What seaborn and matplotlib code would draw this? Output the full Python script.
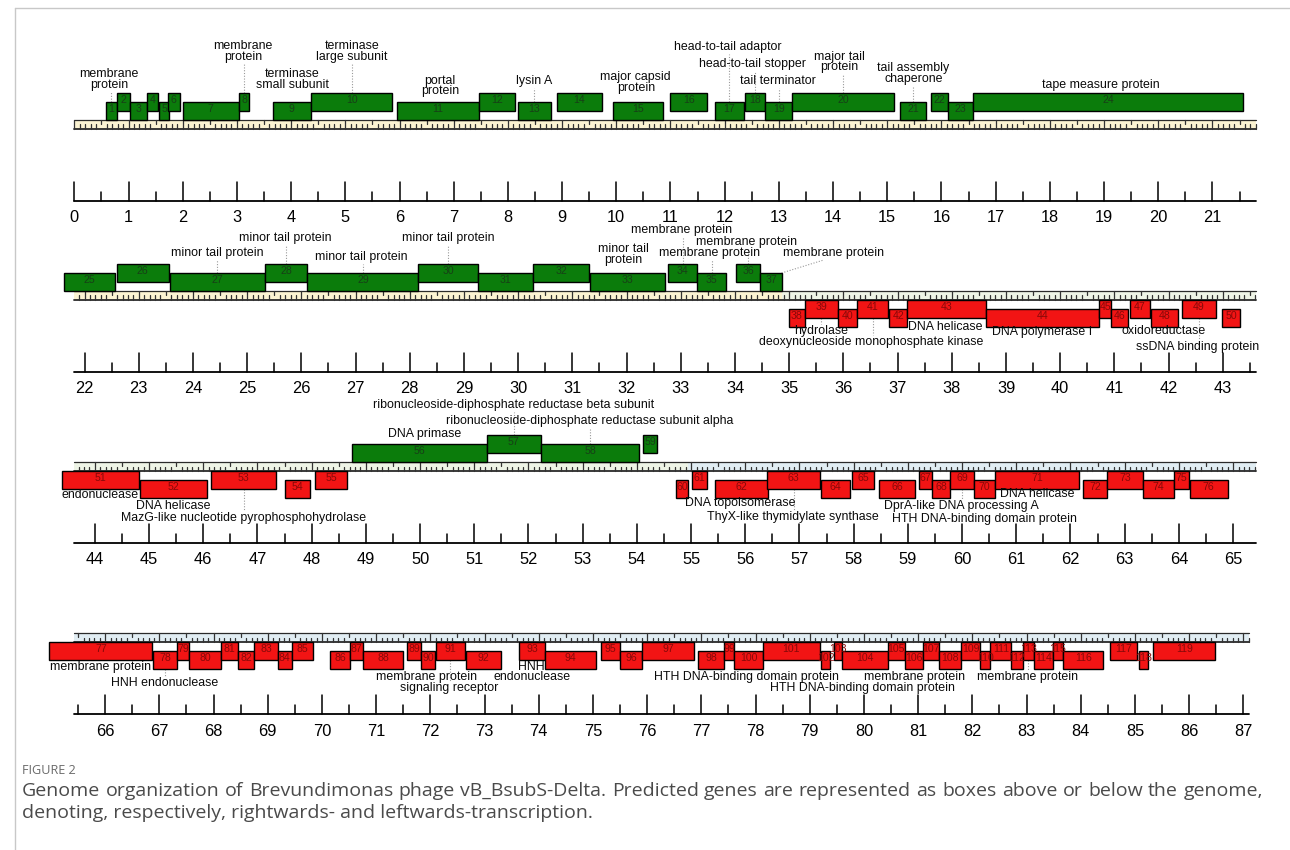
import numpy as np
import matplotlib
matplotlib.use("Agg")
import matplotlib.pyplot as plt
import seaborn as sns
from matplotlib.patches import Rectangle
from matplotlib.lines import Line2D

sns.set_theme(style="white")
plt.rcParams["font.family"] = ["Liberation Sans", "DejaVu Sans"]

# ---------------------------------------------------------------- data (kb)
gene_start = [
    0.59, 0.79, 1.03, 1.34, 1.57, 1.72, 2.00, 3.03, 3.67, 4.36,
    5.95, 7.47, 8.19, 8.90, 9.93, 10.99, 11.82, 12.37, 12.75, 13.24,
    15.24, 15.81, 16.12, 16.58, 21.62, 22.59, 23.57, 25.32, 26.11, 28.16,
    29.26, 30.28, 31.33, 32.77, 33.30, 34.01, 34.47, 34.99, 35.29, 35.90,
    36.26, 36.84, 37.18, 38.64, 40.72, 40.94, 41.28, 41.67, 42.24, 42.98,
    43.39, 44.83, 46.15, 47.51, 48.06, 48.74, 51.23, 52.23, 54.12, 54.72,
    55.02, 55.45, 56.40, 57.39, 57.96, 58.47, 59.20, 59.44, 59.78, 60.22,
    60.61, 62.23, 62.68, 63.33, 63.91, 64.20, 64.97, 66.89, 67.32, 67.55,
    68.13, 68.45, 68.75, 69.19, 69.44, 70.15, 70.52, 70.75, 71.57, 71.83,
    72.10, 72.66, 73.64, 74.12, 75.14, 75.49, 75.91, 76.94, 77.42, 77.61,
    78.13, 79.20, 79.45, 79.59, 80.44, 80.75, 81.09, 81.39, 81.79, 82.14,
    82.33, 82.72, 82.93, 83.14, 83.48, 83.68, 84.54, 85.08, 85.34,
]
gene_end = [
    0.78, 1.03, 1.34, 1.54, 1.75, 1.95, 3.03, 3.23, 4.36, 5.87,
    7.47, 8.13, 8.79, 9.73, 10.86, 11.68, 12.35, 12.75, 13.24, 15.12,
    15.72, 16.12, 16.58, 21.57, 22.56, 23.56, 25.32, 26.11, 28.16, 29.25,
    30.28, 31.30, 32.70, 33.30, 33.84, 34.47, 34.87, 35.29, 35.90, 36.26,
    36.83, 37.18, 38.64, 40.72, 40.94, 41.26, 41.66, 42.18, 42.88, 43.32,
    44.82, 46.07, 47.35, 47.97, 48.66, 51.23, 52.23, 54.04, 54.38, 54.95,
    55.30, 56.41, 57.38, 57.93, 58.38, 59.13, 59.44, 59.78, 60.22, 60.61,
    62.16, 62.68, 63.33, 63.91, 64.19, 64.90, 66.87, 67.32, 67.55, 68.13,
    68.45, 68.75, 69.18, 69.44, 69.83, 70.52, 70.75, 71.50, 71.83, 72.09,
    72.64, 73.30, 74.12, 75.06, 75.49, 75.91, 76.87, 77.42, 77.61, 78.13,
    79.18, 79.38, 79.59, 80.44, 80.75, 81.09, 81.39, 81.79, 82.14, 82.33,
    82.72, 82.93, 83.14, 83.48, 83.68, 84.41, 85.03, 85.24, 86.48,
]
# +1 rightwards transcription, -1 leftwards transcription
gene_strand = [1] * 37 + [-1] * 18 + [1] * 4 + [-1] * 60
genome_length = 87.1

annot_gene = [1, 8, 9, 10, 11, 13, 15, 17, 18, 19, 20, 21, 24,
              27, 28, 29, 30, 33, 34, 35, 36, 37,
              39, 41, 43, 44, 48, 49,
              56, 57, 58, 51, 52, 53, 62, 63, 69, 70, 71,
              77, 78, 90, 91, 93, 100, 104, 106, 113]
annot_text = [
    "membrane\nprotein", "membrane\nprotein", "terminase\nsmall subunit",
    "terminase\nlarge subunit", "portal\nprotein", "lysin A",
    "major capsid\nprotein", "head-to-tail adaptor", "head-to-tail stopper",
    "tail terminator", "major tail\nprotein", "tail assembly\nchaperone",
    "tape measure protein",
    "minor tail protein", "minor tail protein", "minor tail protein",
    "minor tail protein", "minor tail\nprotein", "membrane protein",
    "membrane protein", "membrane protein", "membrane protein",
    "hydrolase", "deoxynucleoside monophosphate kinase", "DNA helicase",
    "DNA polymerase I", "oxidoreductase", "ssDNA binding protein",
    "DNA primase", "ribonucleoside-diphosphate reductase beta subunit",
    "ribonucleoside-diphosphate reductase subunit alpha", "endonuclease",
    "DNA helicase", "MazG-like nucleotide pyrophosphohydrolase",
    "DNA topoisomerase", "ThyX-like thymidylate synthase",
    "DprA-like DNA processing A", "HTH DNA-binding domain protein",
    "DNA helicase",
    "membrane protein", "HNH endonuclease", "membrane protein",
    "signaling receptor", "HNH\nendonuclease",
    "HTH DNA-binding domain protein", "HTH DNA-binding domain protein",
    "membrane protein", "membrane protein",
]

caption_title = "FIGURE 2"
caption_lines = [
    "Genome organization of Brevundimonas phage vB_BsubS-Delta. Predicted genes "
    "are represented as boxes above or below the genome,",
    "denoting, respectively, rightwards- and leftwards-transcription.",
]

# ---------------------------------------------------------------- layout
# label centre (kb), vertical offset from the ruler strip (px, down positive),
# leader: None, "v" (vertical at gene centre) or (x at gene, x at label)
label_x = [0.64, 3.11, 4.02, 5.12, 6.75, 8.48, 10.36, 12.06, 12.52, 12.98,
           14.11, 15.48, 18.94,
           24.44, 25.70, 27.11, 28.71, 31.94, 33.01, 33.53, 34.22, 35.81,
           35.58, 36.52, 37.88, 39.67, 41.90, 42.53,
           50.08, 51.73, 53.13, 44.09, 45.44, 46.75, 55.91, 56.88, 59.99,
           60.41, 61.39,
           65.92, 67.09, 71.93, 72.35, 73.87, 77.84, 79.98, 80.93, 83.02]
label_dy = [-40.5, -68.5, -40.5, -68.5, -34, -39, -37.3, -73.3, -56, -39,
            -58, -46.7, -35,
            -37.7, -53.3, -34.3, -53.3, -36.3, -61, -37.7, -49.3, -37.7,
            39.7, 50.7, 35.7, 41.3, 39.7, 55.7,
            -27.7, -57, -41.3, 33, 44, 56.3, 40.7, 54.7, 44, 57, 32,
            34.3, 50.3, 43.7, 55.3, 39, 44.3, 54.7, 44.3, 44.3]
label_leader = ["v", "v", None, "v", None, "v", None, "v", "v", "v",
                "v", "v", None,
                "v", "v", "v", "v", None, "v", "v", "v", (34.86, 35.62),
                "v", "v", None, None, None, "v",
                None, "v", "v", None, None, "v", None, "v", "v", None, None,
                None, "v", None, "v", None, None, None, None, "v"]

W, H = 1290, 850
PX_PER_KB = 54.2
ROW_LEN = 21.81
ROW_X0 = 74.3                      # pixel where each row begins
STRIP_TOPS = [120, 291, 462, 633]  # pixel row of each ruler strip
STRIP_H = 9
BOX_H = 18
TRACK_Y = {(1, 1): -18, (1, 2): -27, (-1, 1): 9, (-1, 2): 18}

GREEN, RED = "#0b7c0b", "#f21414"
GREEN_TXT, RED_TXT = "#173f17", "#860909"
strip_colours = [(0.0, 34.87, "#fbf3d2"), (34.87, 54.95, "#eef4e6"),
                 (54.95, genome_length, "#e1edf3")]

# alternate tracks inside each run of genes on the same strand
track = []
for i, s in enumerate(gene_strand):
    if i == 0 or s != gene_strand[i - 1]:
        track.append(1 if s > 0 else 2)
    else:
        track.append(3 - track[-1])

fig = plt.figure(figsize=(W / 100, H / 100), dpi=100)
fig.patch.set_facecolor("white")

axes = []
for r, top in enumerate(STRIP_TOPS):
    ax = fig.add_axes([30 / W, 1 - (top + 110) / H, 1240 / W, 200 / H])
    a = r * ROW_LEN
    ax.set_xlim(a + (30 - ROW_X0) / PX_PER_KB, a + (1270 - ROW_X0) / PX_PER_KB)
    ax.set_ylim(110, -90)
    ax.axis("off")
    axes.append(ax)

    b = min(a + ROW_LEN, genome_length)
    # coloured ruler strip
    for s0, s1, col in strip_colours:
        lo, hi = max(a, s0), min(b, s1)
        if hi > lo:
            ax.add_patch(Rectangle((lo, 0), hi - lo, STRIP_H, fc=col, ec="none", zorder=1))
    ax.plot([a, b], [0, 0], color="#2a2a2a", lw=0.9, zorder=2)
    ax.plot([a, b], [STRIP_H, STRIP_H], color="#2a2a2a", lw=1.3, zorder=2)
    ticks = np.arange(np.ceil(a * 10), np.floor(b * 10) + 1) / 10
    for t in ticks:
        tenth = int(round(t * 10)) % 10
        if tenth == 0:
            y0, y1 = 0, STRIP_H
        elif tenth == 5:
            y0, y1 = 0, 4
        else:
            y0, y1 = 4.5, STRIP_H
        ax.plot([t, t], [y0, y1], color="#333333", lw=0.9, zorder=2)

    # scale bar with kb labels
    base = 81
    ax.plot([a, b], [base, base], color="black", lw=1.3, zorder=2)
    for k in np.arange(np.ceil(a * 2), np.floor(b * 2) + 1) / 2:
        if float(k).is_integer():
            ax.plot([k, k], [base - 19, base], color="black", lw=1.1)
            ax.text(k, base + 17, f"{int(k)}", ha="center", va="center",
                    fontsize=11.8, color="black")
        else:
            ax.plot([k, k], [base - 9, base], color="black", lw=1.1)

# gene boxes
box_y = []
for i in range(len(gene_start)):
    s, e = gene_start[i], gene_end[i]
    r = int(((s + e) / 2) // ROW_LEN)
    ax = axes[r]
    y0 = TRACK_Y[(gene_strand[i], track[i])]
    box_y.append((r, y0))
    fc = GREEN if gene_strand[i] > 0 else RED
    tc = GREEN_TXT if gene_strand[i] > 0 else RED_TXT
    ax.add_patch(Rectangle((s, y0), e - s, BOX_H, fc=fc, ec="black",
                           lw=1.0, zorder=3 + i * 0.001))
    ax.text((s + e) / 2, y0 + BOX_H / 2 - 2, str(i + 1), ha="center",
            va="center", fontsize=7.6, color=tc, zorder=4)

# functional annotations
for g, txt, lx, ly, ld in zip(annot_gene, annot_text, label_x, label_dy, label_leader):
    i = g - 1
    r, y0 = box_y[i]
    ax = axes[r]
    ax.text(lx, ly, txt, ha="center", va="center", fontsize=8.9,
            linespacing=0.88, color="#0a0a0a", zorder=5)
    if ld is None:
        continue
    half = 11.5 if "\n" in txt else 6
    gx = (gene_start[i] + gene_end[i]) / 2
    if ld == "v":
        xb, xl = gx, gx
    else:
        xb, xl = ld
    if gene_strand[i] > 0:
        yb, yl = y0, ly + half + 1
    else:
        yb, yl = y0 + BOX_H, ly - half - 1
    ax.plot([xb, xl], [yb, yl], color="#9a9a9a", lw=0.8, ls=(0, (1, 1.5)), zorder=2.5)

# frame and caption
fig.add_artist(Line2D([15 / W, 1], [1 - 8 / H, 1 - 8 / H], color="#c8c8c8", lw=1))
fig.add_artist(Line2D([15 / W, 15 / W], [0, 1 - 8 / H], color="#c8c8c8", lw=1))
cap_font = dict(family=["Open Sans", "DejaVu Sans"])
fig.text(22 / W, 1 - 770 / H, caption_title, fontsize=9.1, color="#6a6a6a",
         va="center", ha="left", **cap_font)

# first caption line is justified between the left and right margins
CAP_SIZE = 14.0
renderer = fig.canvas.get_renderer()
words = caption_lines[0].split(" ")
word_artists = [fig.text(0, 1 - 791 / H, w, fontsize=CAP_SIZE, color="#4a4a4a",
                         va="center", ha="left", **cap_font) for w in words]
widths = [t.get_window_extent(renderer).width for t in word_artists]
left_px, right_px = 22, 1263
gap = (right_px - left_px - sum(widths)) / (len(words) - 1)
xpos = left_px
for t, wdt in zip(word_artists, widths):
    t.set_x(xpos / W)
    xpos += wdt + gap
fig.text(22 / W, 1 - 813 / H, caption_lines[1], fontsize=CAP_SIZE, color="#4a4a4a",
         va="center", ha="left", **cap_font)

fig.savefig("out.png", dpi=100, facecolor="white")
